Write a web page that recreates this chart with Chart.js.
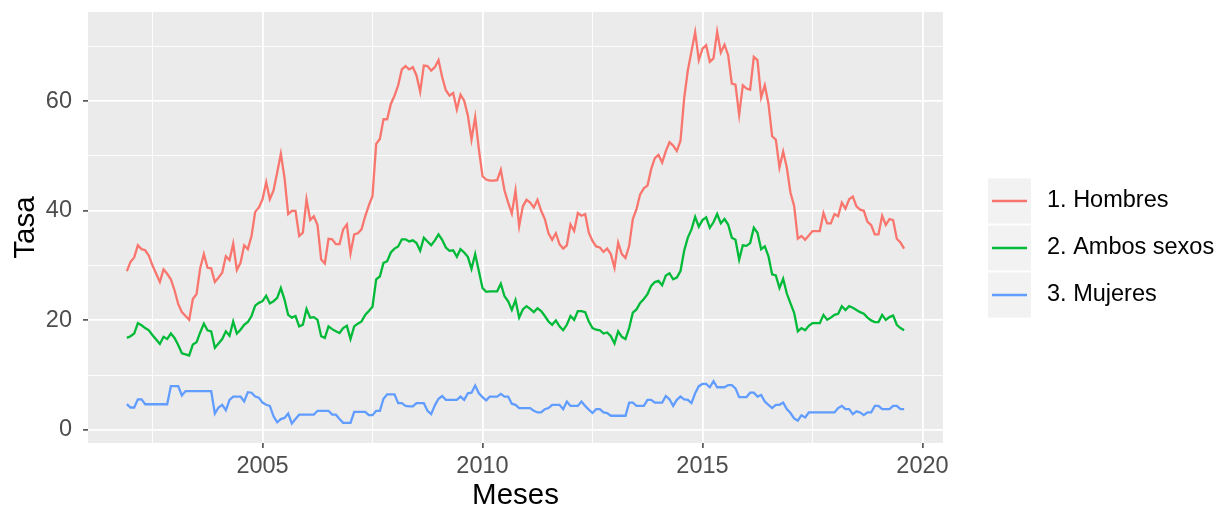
<!DOCTYPE html>
<html>
<head>
<meta charset="utf-8">
<script src="https://cdn.jsdelivr.net/npm/chart.js@4.4.1/dist/chart.umd.min.js"></script>
<style>
  html, body { margin: 0; padding: 0; background: #ffffff; }
  #wrap { width: 1219px; height: 506px; }
</style>
</head>
<body>
<div id="wrap"><canvas id="tasaChart" width="1219" height="506"></canvas></div>
<script>
// Serie mensual: primer mes diciembre 2001, último agosto 2019
const inicioAnio = 2001;
const inicioMes = 12;

const hombres = [
    29.0,
    30.7, 31.5, 33.7, 33.0, 32.8, 31.8, 30.0, 28.5, 27.0, 29.3, 28.5, 27.5,
    25.5, 23.0, 21.5, 20.8, 20.1, 23.9, 24.8, 29.5, 32.1, 29.6, 29.5, 27.0,
    27.8, 28.7, 31.7, 31.0, 34.0, 29.2, 30.5, 33.7, 33.0, 35.4, 39.8, 40.6,
    42.1, 45.2, 42.1, 43.7, 47.0, 50.4, 46.0, 39.4, 40.0, 40.0, 35.4, 36.0,
    42.1, 38.3, 39.0, 37.4, 31.1, 30.4, 34.9, 34.8, 33.9, 33.9, 36.6, 37.5,
    32.2, 35.7, 35.9, 36.6, 39.0, 41.0, 42.7, 52.2, 53.1, 56.7, 56.7, 59.5,
    61.0, 62.9, 65.8, 66.4, 65.8, 66.2, 64.7, 61.7, 66.5, 66.4, 65.6, 66.2,
    67.5, 64.4, 62.0, 61.0, 61.5, 58.5, 61.2, 60.1, 57.4, 53.0, 57.1, 51.3,
    46.3, 45.7, 45.5, 45.5, 45.6, 47.5, 43.7, 41.5, 39.5, 43.7, 37.2, 40.8,
    42.0, 41.5, 40.6, 42.0, 40.0, 38.5, 35.9, 34.7, 35.9, 33.9, 33.1, 33.7,
    37.5, 36.3, 39.6, 39.1, 39.4, 36.0, 34.5, 33.5, 33.3, 32.5, 33.1, 32.1,
    29.6, 34.2, 32.1, 31.4, 33.6, 38.5, 40.3, 43.0, 44.1, 44.6, 47.6, 49.6,
    50.2, 48.8, 50.9, 52.5, 51.9, 50.9, 52.8, 60.5, 65.6, 69.1, 72.6, 67.5,
    69.6, 70.2, 67.2, 67.8, 72.7, 68.9, 70.3, 68.4, 63.2, 63.0, 57.5, 62.9,
    62.3, 62.1, 68.1, 67.5, 60.7, 62.9, 59.5, 53.6, 53.0, 47.9, 50.8, 47.9,
    43.3, 40.9, 34.9, 35.4, 34.7, 35.5, 36.3, 36.3, 36.3, 39.6, 37.7, 37.7,
    39.4, 39.0, 41.5, 40.4, 42.1, 42.6, 40.8, 40.2, 40.0, 38.0, 37.4, 35.7,
    35.7, 39.1, 37.4, 38.5, 38.3, 34.9, 34.2, 33.1
];

const ambos = [
    16.8,
    17.1, 17.6, 19.5, 19.1, 18.6, 18.2, 17.3, 16.5, 15.7, 17.0, 16.6, 17.6,
    16.8, 15.5, 14.0, 13.8, 13.6, 15.6, 16.0, 17.8, 19.4, 18.2, 18.0, 15.0,
    15.8, 16.6, 18.0, 17.2, 19.8, 17.6, 18.3, 19.2, 19.7, 20.8, 22.7, 23.2,
    23.5, 24.5, 23.1, 23.5, 24.1, 25.9, 23.8, 21.0, 20.5, 20.8, 18.9, 19.2,
    22.1, 20.5, 20.6, 20.1, 17.1, 16.8, 18.9, 18.4, 18.0, 17.7, 18.6, 19.0,
    16.6, 18.9, 19.4, 19.8, 21.0, 21.7, 22.5, 27.5, 28.0, 30.5, 30.8, 32.4,
    33.1, 33.5, 34.8, 34.8, 34.4, 34.6, 34.1, 32.7, 35.1, 34.4, 33.7, 34.6,
    35.7, 34.7, 33.3, 32.7, 32.8, 31.6, 33.0, 32.4, 31.6, 29.4, 32.1, 29.0,
    25.9, 25.2, 25.3, 25.3, 25.3, 26.7, 24.4, 23.5, 21.9, 23.7, 20.5, 22.0,
    22.6, 22.1, 21.5, 22.2, 21.7, 20.8, 19.8, 19.2, 20.0, 18.9, 18.2, 19.2,
    20.8, 20.1, 21.7, 21.7, 21.5, 19.8, 18.6, 18.3, 18.2, 17.6, 17.8, 17.1,
    15.8, 18.0, 17.0, 16.6, 18.6, 21.4, 22.0, 23.2, 23.9, 24.8, 26.3, 27.0,
    27.2, 26.4, 28.2, 28.6, 27.5, 27.8, 29.0, 32.7, 35.1, 36.6, 38.9, 37.1,
    38.3, 38.8, 36.9, 37.9, 39.4, 37.7, 38.5, 37.5, 35.1, 34.7, 31.1, 33.7,
    33.6, 34.1, 36.9, 36.0, 33.0, 33.5, 31.7, 28.4, 28.2, 25.9, 27.6, 24.9,
    23.1, 21.4, 18.0, 18.6, 18.2, 19.0, 19.5, 19.5, 19.5, 21.0, 20.1, 20.5,
    21.0, 21.2, 22.6, 21.9, 22.6, 22.3, 21.9, 21.5, 21.2, 20.5, 20.0, 19.7,
    19.7, 21.0, 20.1, 20.6, 20.9, 19.2, 18.6, 18.2
];

const mujeres = [
    4.7,
    4.1, 4.1, 5.6, 5.6, 4.7, 4.7, 4.7, 4.7, 4.7, 4.7, 4.7, 8.0,
    8.0, 8.0, 6.3, 7.1, 7.1, 7.1, 7.1, 7.1, 7.1, 7.1, 7.1, 3.0,
    4.1, 4.6, 3.6, 5.5, 6.1, 6.1, 6.1, 5.2, 6.9, 6.8, 6.1, 5.9,
    5.0, 4.6, 4.4, 2.5, 1.4, 2.0, 2.2, 3.0, 1.2, 2.0, 2.8, 2.8,
    2.8, 2.8, 2.8, 3.5, 3.5, 3.5, 3.5, 2.8, 2.8, 2.0, 1.3, 1.3,
    1.3, 3.3, 3.3, 3.3, 3.3, 2.7, 2.7, 3.5, 3.5, 5.7, 6.5, 6.5,
    6.5, 4.9, 4.9, 4.4, 4.3, 4.3, 4.9, 4.9, 4.9, 3.5, 2.9, 4.5,
    5.7, 6.2, 5.5, 5.5, 5.5, 5.5, 6.1, 5.5, 6.7, 6.8, 8.1, 6.7,
    6.0, 5.4, 6.1, 6.1, 6.1, 6.6, 6.1, 6.1, 4.8, 4.6, 4.0, 4.0,
    4.0, 4.0, 3.5, 3.2, 3.2, 3.8, 4.0, 4.6, 4.6, 4.6, 3.8, 5.2,
    4.4, 4.4, 4.4, 5.2, 4.4, 3.7, 3.1, 3.8, 3.8, 3.2, 3.1, 2.6,
    2.6, 2.6, 2.6, 2.6, 5.0, 5.0, 4.4, 4.4, 4.4, 5.5, 5.5, 5.0,
    5.0, 5.0, 6.2, 5.6, 4.4, 5.5, 6.1, 5.6, 5.5, 4.9, 6.7, 8.0,
    8.4, 8.4, 7.8, 8.9, 7.8, 7.8, 7.8, 8.2, 8.2, 7.6, 6.0, 6.0,
    6.0, 6.8, 6.8, 6.1, 6.4, 5.2, 4.6, 4.0, 4.6, 4.6, 5.0, 3.8,
    3.1, 2.1, 1.7, 2.7, 2.3, 3.2, 3.2, 3.2, 3.2, 3.2, 3.2, 3.2,
    3.2, 4.0, 4.4, 3.8, 3.8, 2.9, 3.4, 3.2, 2.7, 3.2, 3.2, 4.4,
    4.4, 3.8, 3.8, 3.8, 4.4, 4.4, 3.8, 3.8
];

const etiquetas = ['1. Hombres', '2. Ambos sexos', '3. Mujeres'];
const colores = ['#F8766D', '#00BA38', '#619CFF'];

const ticksY = [0, 10, 20, 30, 40, 50, 60, 70];
const ticksX = [2002.5, 2005, 2007.5, 2010, 2012.5, 2015, 2017.5, 2020];

// meses como año decimal
const meses = hombres.map((_, i) => inicioAnio + (inicioMes - 1 + i) / 12);

const FONT = "'Liberation Sans', Arial, Helvetica, sans-serif";

// rango con expansión del 5% (como ggplot)
function expandir(vals) {
    const lo = Math.min(...vals), hi = Math.max(...vals);
    const d = (hi - lo) * 0.05;
    return [lo - d, hi + d];
}
const [xMin, xMax] = expandir(meses);
const [yMin, yMax] = expandir(hombres.concat(ambos, mujeres));

const isMajorY = v => v % 20 === 0;
const isMajorX = v => Number.isInteger(v);

// fondo gris del panel
const panelBg = {
    id: 'panelBg',
    beforeDraw(chart) {
        const { ctx, chartArea: a } = chart;
        ctx.save();
        ctx.fillStyle = '#EBEBEB';
        ctx.fillRect(a.left, a.top, a.right - a.left, a.bottom - a.top);
        ctx.restore();
    }
};

// leyenda estilo ggplot
const ggLegend = {
    id: 'ggLegend',
    afterDraw(chart) {
        const ctx = chart.ctx;
        const keyX = 988, keyW = 43, keyH = 45;
        const filas = [201, 248, 295];
        ctx.save();
        etiquetas.forEach((txt, i) => {
            const cy = filas[i];
            ctx.fillStyle = '#F2F2F2';
            ctx.fillRect(keyX, cy - keyH / 2, keyW, keyH);
            ctx.strokeStyle = colores[i];
            ctx.lineWidth = 2.3;
            ctx.beginPath();
            ctx.moveTo(keyX + 4, cy);
            ctx.lineTo(keyX + keyW - 4, cy);
            ctx.stroke();
            ctx.fillStyle = '#000000';
            ctx.font = '23.5px ' + FONT;
            ctx.textAlign = 'left';
            ctx.textBaseline = 'middle';
            ctx.fillText(txt, 1047, cy);
        });
        ctx.restore();
    }
};

const serie = (vals, i) => ({
    label: etiquetas[i],
    data: vals.map((v, k) => ({ x: meses[k], y: v })),
    borderColor: colores[i],
    backgroundColor: colores[i],
    borderWidth: 2.3,
    pointRadius: 0,
    tension: 0,
    fill: false
});

const ctx = document.getElementById('tasaChart').getContext('2d');
new Chart(ctx, {
    type: 'line',
    data: {
        datasets: [serie(mujeres, 2), serie(ambos, 1), serie(hombres, 0)]
    },
    options: {
        responsive: false,
        animation: false,
        layout: { padding: { left: 0, top: 12, right: 276, bottom: 0 } },
        plugins: {
            legend: { display: false },
            tooltip: { enabled: false }
        },
        scales: {
            x: {
                type: 'linear',
                min: xMin,
                max: xMax,
                afterFit(s) { s.height = 63; s.paddingLeft = 0; s.paddingRight = 0; },
                afterBuildTicks(s) { s.ticks = ticksX.map(v => ({ value: v })); },
                border: { display: false },
                grid: {
                    color: '#FFFFFF',
                    lineWidth: c => (c.tick && isMajorX(c.tick.value)) ? 1.8 : 0.9,
                    drawTicks: true,
                    tickLength: 5,
                    tickWidth: 1.4,
                    tickColor: c => (c.tick && isMajorX(c.tick.value)) ? '#333333' : 'rgba(0,0,0,0)'
                },
                ticks: {
                    autoSkip: false,
                    maxRotation: 0,
                    padding: 4,
                    color: '#4D4D4D',
                    font: { family: FONT, size: 23.5 },
                    callback: v => isMajorX(v) ? String(v) : ''
                },
                title: {
                    display: true,
                    text: 'Meses',
                    color: '#000000',
                    font: { family: FONT, size: 29.5, lineHeight: 1 },
                    padding: { top: 0, bottom: -4.5 }
                }
            },
            y: {
                type: 'linear',
                min: yMin,
                max: yMax,
                afterFit(s) { s.width = 88; s.paddingTop = 0; s.paddingBottom = 0; },
                afterBuildTicks(s) { s.ticks = ticksY.map(v => ({ value: v })); },
                border: { display: false },
                grid: {
                    color: '#FFFFFF',
                    lineWidth: c => (c.tick && isMajorY(c.tick.value)) ? 1.8 : 0.9,
                    drawTicks: true,
                    tickLength: 5,
                    tickWidth: 1.4,
                    tickColor: c => (c.tick && isMajorY(c.tick.value)) ? '#333333' : 'rgba(0,0,0,0)'
                },
                ticks: {
                    padding: 11,
                    color: '#4D4D4D',
                    font: { family: FONT, size: 23.5 },
                    callback: v => isMajorY(v) ? String(v) : ''
                },
                title: {
                    display: true,
                    text: 'Tasa',
                    color: '#000000',
                    font: { family: FONT, size: 29.5, lineHeight: 1 },
                    padding: { top: 11, bottom: 0 }
                }
            }
        }
    },
    plugins: [panelBg, ggLegend]
});
</script>
</body>
</html>
